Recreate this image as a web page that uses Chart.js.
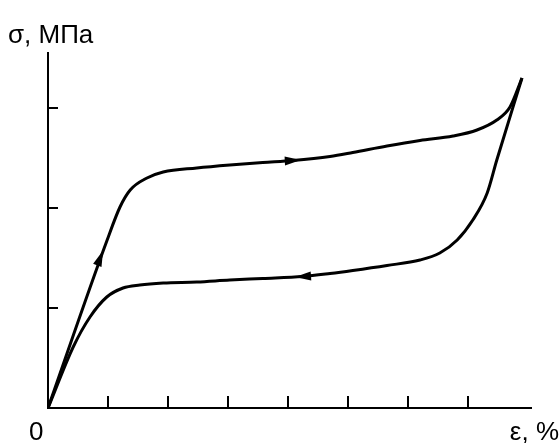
<!DOCTYPE html>
<html>
<head>
<meta charset="utf-8">
<script src="https://cdn.jsdelivr.net/npm/chart.js@4"></script>
<style>
  html, body { margin: 0; padding: 0; background: #ffffff; }
  #wrap { width: 560px; height: 443px; position: relative; }
</style>
</head>
<body>
<div id="wrap"><canvas id="chart"></canvas></div>
<script>
// strain and stress in tick units
const loadX = [0, 0.98, 1.2, 1.37, 1.65, 1.92, 2.48, 3.03, 3.58, 4.08, 4.7, 5.08, 5.65, 6.2, 6.75, 7.15, 7.48, 7.7, 7.9];
const loadY = [0, 1.67, 2.01, 2.18, 2.3, 2.36, 2.4, 2.43, 2.455, 2.475, 2.515, 2.555, 2.62, 2.675, 2.72, 2.78, 2.88, 3.01, 3.3];

// unloading branch, listed from the origin up to the top point
const unloadX = [0, 0.42, 0.7, 0.98, 1.25, 1.53, 1.92, 2.48, 3.03, 3.58, 4.25, 4.7, 5.08, 5.65, 6.2, 6.53, 6.82, 7.08, 7.32, 7.48, 7.9];
const unloadY = [0, 0.61, 0.91, 1.11, 1.2, 1.23, 1.25, 1.26, 1.28, 1.295, 1.315, 1.345, 1.375, 1.425, 1.48, 1.55, 1.68, 1.88, 2.15, 2.48, 3.3];

// arrows: position and direction
const arrowX = [0.87, 4.08, 4.25];
const arrowY = [1.5, 2.475, 1.315];
const arrowDX = [0.11, 1, -1];
const arrowDY = [0.17, 0.03, -0.04];

const xTicks = [1, 2, 3, 4, 5, 6, 7];
const yTicks = [1, 2, 3];

const yTitle = "σ, МПа";
const xTitle = "ε, %";
const originLabel = "0";

const FONT = "Liberation Sans, Arial, sans-serif";

function toPoints(xs, ys) {
  return xs.map((x, i) => ({ x: x, y: ys[i] }));
}

const decorPlugin = {
  id: "decor",
  afterDraw(chart) {
    const ctx = chart.ctx;
    const xs = chart.scales.x;
    const ys = chart.scales.y;
    const left = xs.getPixelForValue(0);
    const bottom = ys.getPixelForValue(0);

    ctx.save();
    ctx.strokeStyle = "#000000";
    ctx.lineWidth = 2;
    // inward tick marks
    xTicks.forEach((t) => {
      const px = Math.round(xs.getPixelForValue(t));
      ctx.beginPath();
      ctx.moveTo(px, bottom);
      ctx.lineTo(px, bottom - 12);
      ctx.stroke();
    });
    yTicks.forEach((t) => {
      const py = Math.round(ys.getPixelForValue(t));
      ctx.beginPath();
      ctx.moveTo(left, py);
      ctx.lineTo(left + 10, py);
      ctx.stroke();
    });

    // arrow heads
    ctx.fillStyle = "#000000";
    arrowX.forEach((ax, i) => {
      const px = xs.getPixelForValue(ax);
      const py = ys.getPixelForValue(arrowY[i]);
      const ex = xs.getPixelForValue(ax + arrowDX[i]) - px;
      const ey = ys.getPixelForValue(arrowY[i] + arrowDY[i]) - py;
      const ang = Math.atan2(ey, ex);
      ctx.save();
      ctx.translate(px, py);
      ctx.rotate(ang);
      ctx.beginPath();
      ctx.moveTo(8, 0);
      ctx.lineTo(-8, -4.5);
      ctx.lineTo(-8, 4.5);
      ctx.closePath();
      ctx.fill();
      ctx.restore();
    });

    // texts
    ctx.font = "26px " + FONT;
    ctx.textBaseline = "alphabetic";
    ctx.textAlign = "left";
    ctx.fillText(yTitle, 8, 43);
    ctx.fillText(originLabel, 29, 440);
    ctx.textAlign = "right";
    ctx.fillText(xTitle, 559, 440);
    ctx.restore();
  }
};

new Chart(document.getElementById("chart").getContext("2d"), {
  type: "scatter",
  data: {
    datasets: [
      {
        label: "loading",
        data: toPoints(loadX, loadY),
        showLine: true,
        borderColor: "#000000",
        borderWidth: 3,
        pointRadius: 0,
        cubicInterpolationMode: "monotone"
      },
      {
        label: "unloading",
        data: toPoints(unloadX, unloadY),
        showLine: true,
        borderColor: "#000000",
        borderWidth: 3,
        pointRadius: 0,
        cubicInterpolationMode: "monotone"
      }
    ]
  },
  options: {
    responsive: true,
    maintainAspectRatio: false,
    animation: false,
    layout: {
      padding: { left: 48, right: 29, top: 53, bottom: 35 }
    },
    plugins: {
      legend: { display: false },
      tooltip: { enabled: false }
    },
    scales: {
      x: {
        type: "linear",
        min: 0,
        max: 8.05,
        ticks: { display: false, stepSize: 1 },
        grid: { display: false, drawTicks: false },
        border: { display: true, color: "#000000", width: 2 }
      },
      y: {
        type: "linear",
        min: 0,
        max: 3.55,
        ticks: { display: false, stepSize: 1 },
        grid: { display: false, drawTicks: false },
        border: { display: true, color: "#000000", width: 2 }
      }
    }
  },
  plugins: [decorPlugin]
});
</script>
</body>
</html>
